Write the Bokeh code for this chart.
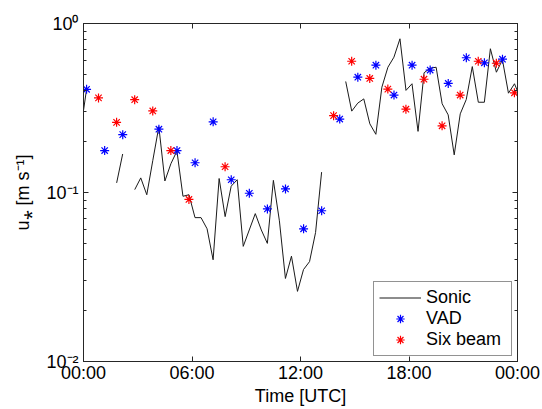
import math
from bokeh.plotting import figure
from bokeh.models import (FixedTicker, LinearAxis, Legend, LegendItem,
                          Range1d, CustomJSTickFormatter)
from bokeh.embed import file_html
from bokeh.resources import INLINE

nan = float("nan")

# Sonic: 20-min values, centred at 00:10, 00:30, ... (k = -1 .. 72), hours UTC
sonic_time_h = [(10 + 20 * k) / 60.0 for k in range(-1, 73)]
sonic_ustar = [
    0.230, 0.406, nan, nan, nan, nan, 0.114, 0.169, nan, 0.104,
    0.122, 0.097, 0.155, 0.245, 0.117, 0.148, 0.176, 0.095, 0.097, 0.071,
    0.071, 0.061, 0.040, 0.121, 0.072, 0.109, 0.119, 0.048, 0.060, 0.075,
    0.060, 0.050, 0.118, 0.068, 0.031, 0.042, 0.026, 0.035, 0.039, 0.058,
    0.132, nan, nan, nan, 0.454, 0.303, 0.338, 0.358, 0.255, 0.221,
    0.420, 0.551, 0.632, 0.812, 0.402, 0.440, 0.230, 0.511, 0.544, 0.551,
    0.335, 0.288, 0.167, 0.292, 0.355, 0.556, 0.342, 0.342, 0.709, 0.515,
    0.610, 0.387, 0.440, 0.360,
]

vad_time_h = [0.17, 1.17, 2.17, 4.17, 5.17, 6.17, 7.17, 8.17, 9.17, 10.17, 11.17,
              12.17, 13.17, 14.17, 15.17, 16.17, 17.17, 18.17, 19.17, 20.17,
              21.17, 22.17, 23.17]
vad_ustar = [0.408, 0.177, 0.220, 0.237, 0.177, 0.150, 0.262, 0.119, 0.099, 0.080,
             0.105, 0.061, 0.078, 0.272, 0.481, 0.567, 0.377, 0.567, 0.530, 0.442,
             0.627, 0.585, 0.615]

sixbeam_time_h = [0.83, 1.83, 2.83, 3.83, 4.83, 5.83, 7.83, 13.83, 14.83, 15.83,
                  16.83, 17.83, 18.83, 19.83, 20.83, 21.83, 22.83, 23.83]
sixbeam_ustar = [0.363, 0.260, 0.354, 0.304, 0.177, 0.091, 0.142, 0.285, 0.598,
                 0.473, 0.409, 0.311, 0.468, 0.248, 0.377, 0.598, 0.582, 0.389]

x_ticks = [0, 6, 12, 18, 24]
x_tick_labels = ["00:00", "06:00", "12:00", "18:00", "00:00"]
y_ticks = [0.01, 0.1, 1.0]
y_tick_labels = ["10\u207b\u00b2", "10\u207b\u00b9", "10\u2070"]
y_minor = [m * d for d in (0.01, 0.1) for m in range(2, 10)]

FONT = "Liberation Sans"
FS = "18px"
AX = "#262626"

p = figure(width=542, height=409, y_axis_type="log",
           x_range=Range1d(0, 24), y_range=Range1d(0.01, 1),
           output_backend="svg", toolbar_location=None,
           min_border_left=83, min_border_right=25,
           min_border_top=23, min_border_bottom=48)
p.xgrid.visible = False
p.ygrid.visible = False
p.outline_line_color = AX
p.outline_line_width = 1
p.background_fill_color = "white"
p.border_fill_color = "white"

sonic = p.line(sonic_time_h, sonic_ustar, line_color="#1a1a1a", line_width=1)
vad = p.scatter(vad_time_h, vad_ustar, marker="asterisk", size=9,
                line_color="#0000ff", line_width=1.2)
six = p.scatter(sixbeam_time_h, sixbeam_ustar, marker="asterisk", size=9,
                line_color="#ff0000", line_width=1.2)

xfmt = CustomJSTickFormatter(args=dict(xl=x_tick_labels, xt=x_ticks), code="""
    const i = xt.indexOf(Math.round(tick));
    return i >= 0 ? xl[i] : "";
""")
yfmt = CustomJSTickFormatter(args=dict(yl=y_tick_labels), code="""
    const e = Math.round(Math.log10(tick));
    return yl[e + 2];
""")
blank = CustomJSTickFormatter(code='return "";')

def style(ax, labels=True):
    ax.axis_line_color = AX
    ax.major_tick_line_color = AX
    ax.minor_tick_line_color = AX
    ax.major_tick_in = 5
    ax.major_tick_out = 0
    ax.minor_tick_in = 3
    ax.minor_tick_out = 0
    ax.major_label_text_font = FONT
    ax.major_label_text_color = "black"
    ax.axis_label_text_font = FONT
    ax.axis_label_text_font_style = "normal"
    ax.axis_label_text_color = "black"
    ax.axis_label_text_font_size = FS
    if labels:
        ax.major_label_text_font_size = FS
    else:
        ax.formatter = blank
        ax.major_label_text_font_size = "1px"
        ax.major_label_standoff = 0

xa = p.xaxis[0]
xa.ticker = FixedTicker(ticks=x_ticks)
xa.formatter = xfmt
xa.axis_label = "Time [UTC]"
style(xa)
xa.minor_tick_line_color = None
xa.major_label_standoff = 1
xa.axis_label_standoff = 0

ya = p.yaxis[0]
ya.ticker = FixedTicker(ticks=y_ticks, minor_ticks=y_minor)
ya.formatter = yfmt
ya.axis_label = "u\u204e [m s\u207b\u00b9]"
style(ya)
ya.major_label_standoff = 5
ya.axis_label_standoff = 10

top = LinearAxis(ticker=FixedTicker(ticks=x_ticks))
style(top, labels=False)
top.minor_tick_line_color = None
p.add_layout(top, "above")

right = LinearAxis(ticker=FixedTicker(ticks=y_ticks, minor_ticks=y_minor))
style(right, labels=False)
p.add_layout(right, "right")

legend = Legend(items=[LegendItem(label="Sonic", renderers=[sonic]),
                       LegendItem(label="VAD", renderers=[vad]),
                       LegendItem(label="Six beam", renderers=[six])],
                location="bottom_right")
legend.label_text_font = FONT
legend.label_text_font_size = FS
legend.label_text_color = "black"
legend.border_line_color = AX
legend.border_line_width = 1
legend.background_fill_alpha = 1
legend.margin = 5
legend.padding = 5
legend.spacing = 0
legend.glyph_width = 42
legend.glyph_height = 21
legend.label_height = 21
legend.label_width = 80
legend.label_standoff = 5
p.add_layout(legend)

open("out.html", "w").write(file_html(p, INLINE))
